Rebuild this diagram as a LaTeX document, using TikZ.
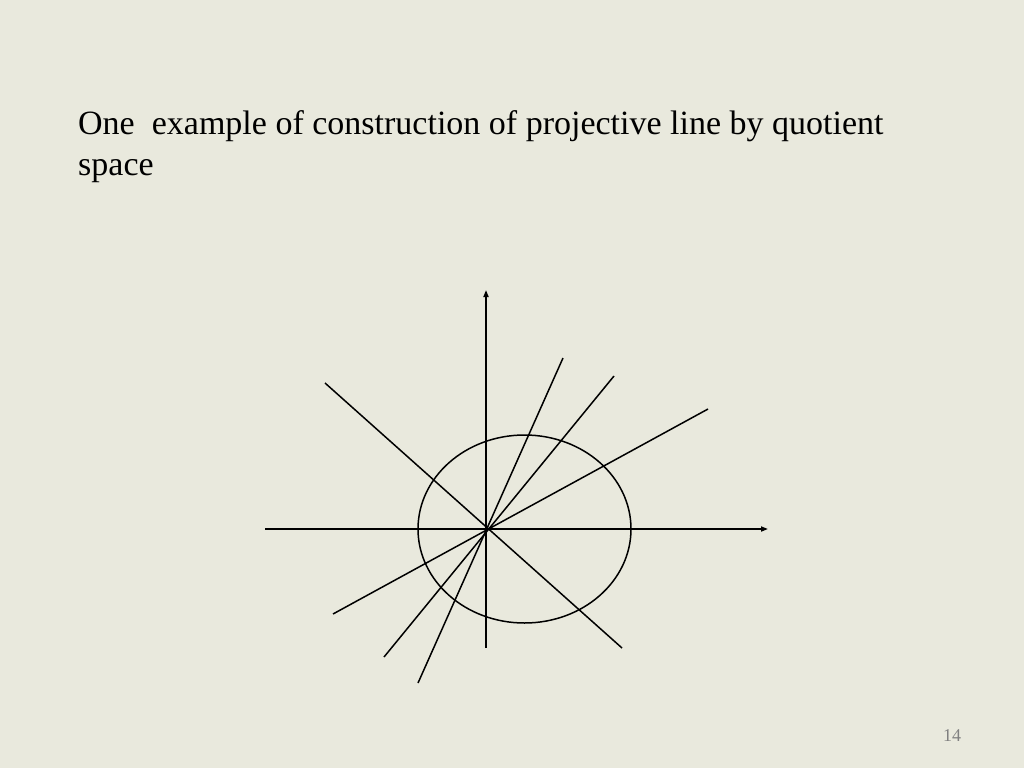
\documentclass[tikz,border=0pt]{standalone}
\usepackage{fontspec}
\setmainfont{Liberation Serif}
\usetikzlibrary{positioning, arrows.meta, calc}
\definecolor{slidebg}{HTML}{E9E9DD}
\definecolor{numgray}{HTML}{808080}

\begin{document}
\begin{tikzpicture}[
    x=1pt, y=-1pt,
    axis/.style={line width=1.6pt, -{Triangle[length=7pt, width=5pt]}},
    ray/.style={line width=1.5pt},
    titlestyle/.style={font=\fontsize{34}{41}\selectfont, align=left, inner sep=0pt},
    numstyle/.style={font=\fontsize{18}{20}\selectfont, text=numgray, inner sep=0pt}
]

% Slide background
\fill[slidebg] (0,0) rectangle (1024,768);
\useasboundingbox (0,0) rectangle (1024,768);

% Title text (base anchor sits on the last line)
\node (title) [titlestyle, anchor=base west] at (78,175) {One\ \ example of construction of projective line by quotient\\space};

% Origin and axes
\coordinate (origin) at (486,529);
\coordinate (x_start) at (265,529);
\coordinate (x_end) at (768,529);
\coordinate (y_start) at (486,648);
\coordinate (y_end) at (486,290);
\draw[axis] (x_start) -- (x_end);
\draw[axis] (y_start) -- (y_end);

% Circle (drawn as ellipse)
\draw[ray] (524.5,529) ellipse [x radius=106.5, y radius=94];

% Lines through the origin
\coordinate (l1_a) at (325,383);
\coordinate (l1_b) at (622,648);
\coordinate (l2_a) at (563,358);
\coordinate (l2_b) at (418,683);
\coordinate (l3_a) at (614,376);
\coordinate (l3_b) at (384,657);
\coordinate (l4_a) at (708,409);
\coordinate (l4_b) at (333,614);
\draw[ray] (l1_a) -- (l1_b);
\draw[ray] (l2_a) -- (l2_b);
\draw[ray] (l3_a) -- (l3_b);
\draw[ray] (l4_a) -- (l4_b);

% Page number
\node (page_num) [numstyle, anchor=base] at (952,741) {14};

\end{tikzpicture}
\end{document}
